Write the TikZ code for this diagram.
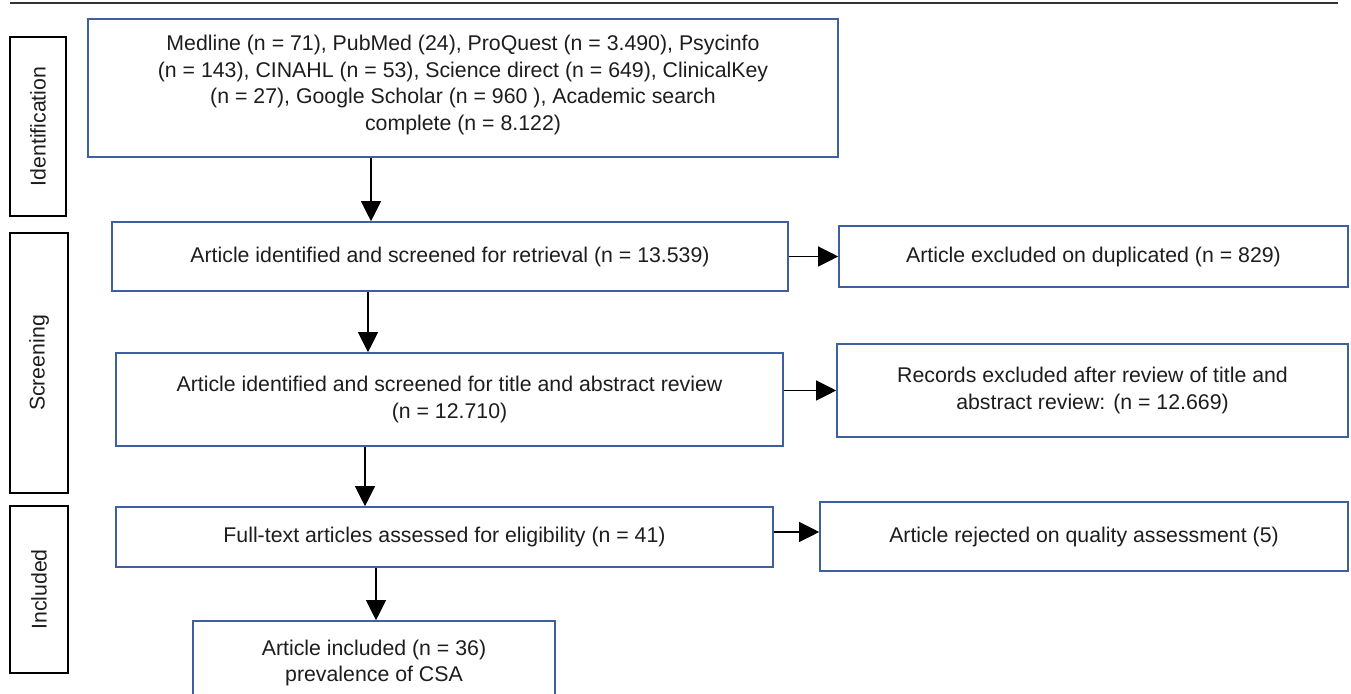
\documentclass[tikz,border=0pt]{standalone}
\usepackage{fontspec}
\setmainfont{Liberation Sans}
\usetikzlibrary{arrows.meta}
\definecolor{boxblue}{RGB}{62,96,160}
\definecolor{txtgray}{RGB}{30,28,29}

\begin{document}
\begin{tikzpicture}[x=0.5pt,y=-0.5pt,
  every node/.style={font=\fontsize{10.65}{13.2}\selectfont,text=txtgray,align=center,inner sep=0pt},
  flowbox/.style={draw=boxblue,line width=0.8pt},
  phasebox/.style={draw=black,line width=0.8pt,rotate=90},
  arr/.style={-{Triangle[length=10pt,width=10pt]},line width=0.6pt}]
\useasboundingbox (0,0) rectangle (1351,694);
\draw[line width=1.2pt,black!80] (10,3) -- (1338,3);
\node[phasebox,minimum width=89.5pt,minimum height=28pt] (ident) at (38,126.5) {Identification};
\node[phasebox,minimum width=130pt,minimum height=29pt] (screen) at (39,363) {Screening};
\node[phasebox,minimum width=83.5pt,minimum height=29pt] (incl) at (39,589.5) {Included};
\node[flowbox,minimum width=375pt,minimum height=69pt] (search) at (463,88) {Medline (n = 71), PubMed (24), ProQuest (n = 3.490), Psycinfo\\(n = 143), CINAHL (n = 53), Science direct (n = 649), ClinicalKey\\(n = 27), Google Scholar (n = 960 ), Academic search\\complete (n = 8.122)\\[-8pt]};
\node[flowbox,minimum width=338pt,minimum height=34.5pt] (retr) at (450,256.5) {Article identified and screened for retrieval (n = 13.539)};
\node[flowbox,minimum width=254.5pt,minimum height=30.5pt] (dupl) at (1093.5,256.5) {Article excluded on duplicated (n = 829)};
\node[flowbox,minimum width=333.5pt,minimum height=46.5pt] (title) at (449.5,399.5) {Article identified and screened for title and abstract review\\(n = 12.710)};
\node[flowbox,minimum width=255.5pt,minimum height=46.5pt] (recexc) at (1092.5,390.5) {Records excluded after review of title and\\abstract review: (n = 12.669)};
\node[flowbox,minimum width=328.5pt,minimum height=30pt] (fulltext) at (444.5,537) {Full-text articles assessed for eligibility (n = 41)};
\node[flowbox,minimum width=264pt,minimum height=34.5pt] (reject) at (1084,536.5) {Article rejected on quality assessment (5)};
\node[flowbox,minimum width=181pt,minimum height=42pt] (csa) at (374,663) {Article included (n = 36)\\prevalence of CSA};
\coordinate (c1) at (371,0);
\coordinate (c2) at (368,0);
\coordinate (c3) at (365,0);
\coordinate (c4) at (376,0);
\coordinate (c5) at (0,532);
\draw[arr] (search.south -| c1) -- (retr.north -| c1);
\draw[arr] (retr.south -| c2) -- (title.north -| c2);
\draw[arr] (title.south -| c3) -- (fulltext.north -| c3);
\draw[arr] (fulltext.south -| c4) -- (csa.north -| c4);
\draw[arr] (retr.east) -- (dupl.west);
\draw[arr] (title.east |- recexc.west) -- (recexc.west);
\draw[arr] (fulltext.east |- c5) -- (reject.west |- c5);
\end{tikzpicture}
\end{document}
